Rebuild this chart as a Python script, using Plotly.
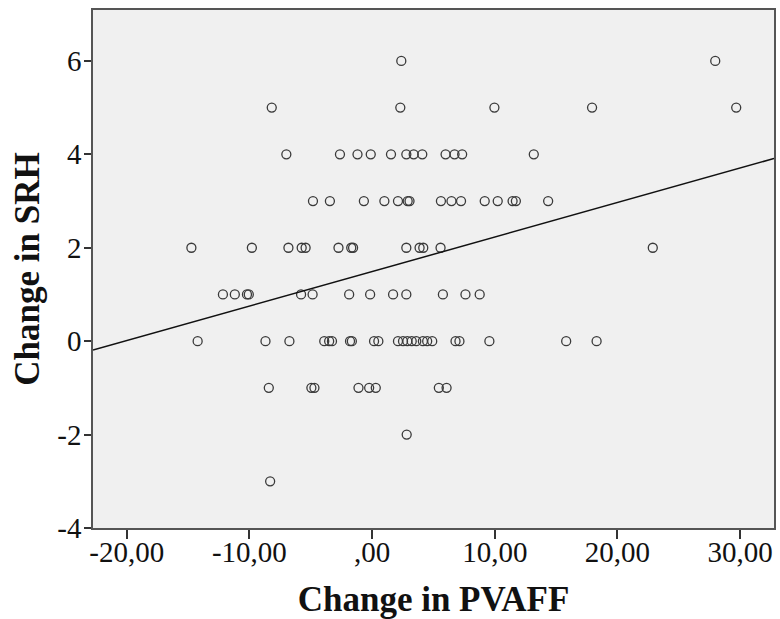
import numpy as np
import plotly.graph_objects as go

# Change in PVAFF values, grouped by the (integer) Change in SRH value
pvaff_srh_6 = [2.38, 27.97]
pvaff_srh_5 = [-8.18, 2.30, 9.97, 17.93, 29.68]
pvaff_srh_4 = [-6.99, -2.62, -1.19, -0.11, 1.54, 2.79, 3.39, 4.09, 5.99, 6.72, 7.34, 13.18]
pvaff_srh_3 = [-4.82, -3.44, -0.67, 1.00, 2.11, 2.90, 3.05, 5.61, 6.47, 7.25, 9.18, 10.24,
               11.45, 11.72, 14.35]
pvaff_srh_2 = [-14.73, -9.80, -6.82, -5.74, -5.42, -2.74, -1.70, -1.55, 2.79, 3.87, 4.17,
               5.58, 22.88]
pvaff_srh_1 = [-12.16, -11.19, -10.20, -10.05, -5.79, -4.85, -1.87, -0.16, 1.71, 2.79, 5.77,
               7.61, 8.77]
pvaff_srh_0 = [-14.22, -8.69, -6.74, -3.90, -3.50, -3.27, -1.80, -1.65, 0.16, 0.51, 2.11,
               2.52, 2.87, 3.23, 3.60, 4.14, 4.49, 4.90, 6.80, 7.12, 9.56, 15.82, 18.30]
pvaff_srh_m1 = [-8.42, -4.95, -4.70, -1.11, -0.24, 0.30, 5.44, 6.07]
pvaff_srh_m2 = [2.82]
pvaff_srh_m3 = [-8.31]

srh_levels = [6, 5, 4, 3, 2, 1, 0, -1, -2, -3]
pvaff_groups = [pvaff_srh_6, pvaff_srh_5, pvaff_srh_4, pvaff_srh_3, pvaff_srh_2,
                pvaff_srh_1, pvaff_srh_0, pvaff_srh_m1, pvaff_srh_m2, pvaff_srh_m3]

# linear fit line
fit_intercept = 1.49
fit_slope = 0.0739

x_tick_vals = [-20, -10, 0, 10, 20, 30]
x_tick_text = ["-20,00", "-10,00", ",00", "10,00", "20,00", "30,00"]
y_tick_vals = [-4, -2, 0, 2, 4, 6]
y_tick_text = ["-4", "-2", "0", "2", "4", "6"]

x_range = [-22.75, 32.76]
y_range = [-4, 7.09]

pvaff = []
srh = []
for level, group in zip(srh_levels, pvaff_groups):
    pvaff.extend(group)
    srh.extend([level] * len(group))

line_x = np.array(x_range)
line_y = fit_intercept + fit_slope * line_x

fig = go.Figure()
fig.add_trace(go.Scatter(
    x=pvaff, y=srh, mode="markers",
    marker=dict(symbol="circle-open", size=9, color="#3a3a3a", line=dict(width=1.3)),
    showlegend=False, hoverinfo="x+y"))
fig.add_trace(go.Scatter(
    x=line_x, y=line_y, mode="lines",
    line=dict(color="#111111", width=1.5),
    showlegend=False, hoverinfo="skip"))

serif = "Liberation Serif, Times New Roman, serif"
fig.update_layout(
    width=780, height=619,
    margin=dict(l=93, r=4, t=10, b=91),
    paper_bgcolor="white",
    plot_bgcolor="#f0f0f0",
    font=dict(family=serif, color="#111111"),
    xaxis=dict(
        range=x_range, tickvals=x_tick_vals, ticktext=x_tick_text,
        showgrid=False, zeroline=False,
        showline=True, mirror=True, linecolor="#555555", linewidth=1.5,
        ticks="outside", ticklen=9, tickwidth=1.5, tickcolor="#333333",
        ticklabelstandoff=-12,
        tickfont=dict(family=serif, size=29, color="#111111"),
        title=dict(text="<b>Change in PVAFF</b>", font=dict(family=serif, size=35, color="#111111"),
                   standoff=23),
    ),
    yaxis=dict(
        range=y_range, tickvals=y_tick_vals, ticktext=y_tick_text,
        showgrid=False, zeroline=False,
        showline=True, mirror=True, linecolor="#555555", linewidth=1.5,
        ticks="outside", ticklen=7, tickwidth=1.5, tickcolor="#333333",
        ticklabelstandoff=-3,
        tickfont=dict(family=serif, size=29, color="#111111"),
        title=dict(text="<b>Change in SRH</b>", font=dict(family=serif, size=35, color="#111111"),
                   standoff=7),
    ),
)

fig.write_html("out.html")
